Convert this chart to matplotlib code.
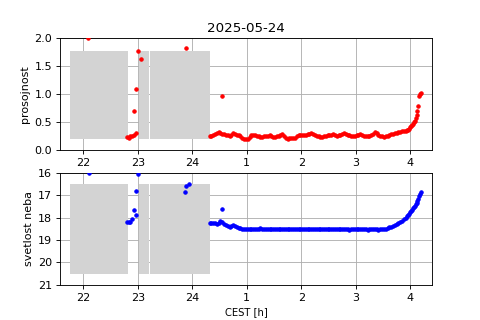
import numpy as np
import matplotlib
matplotlib.use("Agg")
import matplotlib.pyplot as plt
from matplotlib.patches import Rectangle

# scattered readings before the main run (hours CEST, 24 = midnight)
t_early_top = [22.09, 22.80, 22.83, 22.86, 22.89, 22.93, 22.96, 22.92, 22.97, 23.00, 23.05, 23.89, 24.55]
prosojnost_early = [2.00, 0.24, 0.23, 0.25, 0.26, 0.28, 0.31, 0.70, 1.10, 1.78, 1.64, 1.83, 0.98]

t_early_bot = [22.10, 22.80, 22.83, 22.86, 22.90, 22.92, 22.96, 22.97, 23.01, 23.87, 23.89, 23.93, 24.55]
svetlost_early = [16.00, 18.20, 18.21, 18.19, 18.05, 17.67, 17.89, 16.82, 16.05, 16.86, 16.57, 16.50, 17.62]

# main run, minutes after midnight
minutes = [19, 21, 23, 25, 27, 29, 31, 33, 35, 37, 39, 41, 43, 45, 47, 49, 51, 53, 55, 57,
           59, 61, 63, 65, 67, 69, 71, 73, 75, 77, 79, 81, 83, 85, 87, 89, 91, 93, 95, 97,
           99, 101, 103, 105, 107, 109, 111, 113, 115, 117, 119, 121, 123, 125, 127, 129, 131, 133, 135, 137,
           139, 141, 143, 145, 147, 149, 151, 153, 155, 157, 159, 161, 163, 165, 167, 169, 171, 173, 175, 177,
           179, 181, 183, 185, 187, 189, 191, 193, 195, 197, 199, 201, 203, 205, 207, 209, 211, 213, 215, 217,
           219, 221, 223, 225, 227, 229, 231, 233, 235, 237, 238, 239, 240, 241, 242, 243, 244, 245, 246, 247,
           248, 249, 250, 251, 252]

prosojnost = [0.25, 0.26, 0.28, 0.29, 0.31, 0.32, 0.31, 0.30, 0.29, 0.28, 0.27, 0.25, 0.28, 0.31, 0.29, 0.28, 0.27, 0.25, 0.22, 0.21,
              0.20, 0.21, 0.24, 0.28, 0.28, 0.27, 0.25, 0.25, 0.24, 0.24, 0.25, 0.26, 0.25, 0.27, 0.26, 0.24, 0.24, 0.25, 0.26, 0.27,
              0.29, 0.25, 0.22, 0.21, 0.22, 0.22, 0.23, 0.23, 0.25, 0.27, 0.28, 0.28, 0.27, 0.28, 0.29, 0.30, 0.31, 0.29, 0.27, 0.25,
              0.25, 0.24, 0.24, 0.25, 0.26, 0.27, 0.27, 0.28, 0.29, 0.27, 0.26, 0.27, 0.28, 0.29, 0.31, 0.30, 0.28, 0.27, 0.26, 0.25,
              0.26, 0.27, 0.28, 0.29, 0.27, 0.25, 0.25, 0.25, 0.26, 0.28, 0.30, 0.32, 0.31, 0.28, 0.26, 0.25, 0.24, 0.25, 0.26, 0.27,
              0.29, 0.30, 0.31, 0.31, 0.33, 0.33, 0.34, 0.34, 0.35, 0.36, 0.37, 0.39, 0.41, 0.43, 0.45, 0.48, 0.50, 0.53, 0.58, 0.63,
              0.70, 0.80, 0.98, 1.00, 1.02]

svetlost = [18.22, 18.22, 18.24, 18.26, 18.28, 18.24, 18.17, 18.20, 18.27, 18.32, 18.36, 18.40, 18.37, 18.33, 18.38, 18.44, 18.46, 18.48, 18.49, 18.50,
            18.51, 18.51, 18.50, 18.49, 18.50, 18.51, 18.50, 18.49, 18.48, 18.49, 18.50, 18.51, 18.50, 18.50, 18.49, 18.49, 18.50, 18.50, 18.51, 18.51,
            18.52, 18.51, 18.51, 18.50, 18.50, 18.49, 18.49, 18.50, 18.50, 18.49, 18.49, 18.50, 18.51, 18.51, 18.50, 18.51, 18.51, 18.52, 18.51, 18.51,
            18.51, 18.52, 18.52, 18.53, 18.50, 18.51, 18.51, 18.51, 18.52, 18.52, 18.52, 18.52, 18.53, 18.52, 18.51, 18.52, 18.53, 18.54, 18.52, 18.52,
            18.51, 18.52, 18.52, 18.53, 18.52, 18.52, 18.53, 18.54, 18.53, 18.53, 18.52, 18.53, 18.53, 18.54, 18.53, 18.52, 18.51, 18.49, 18.47, 18.44,
            18.41, 18.38, 18.34, 18.30, 18.25, 18.19, 18.13, 18.07, 18.00, 17.92, 17.87, 17.82, 17.76, 17.70, 17.64, 17.58, 17.52, 17.46, 17.40, 17.34,
            17.25, 17.15, 17.05, 16.96, 16.84]

# grey blocks (cloud / no-data intervals), hours
blocks = [(21.76, 22.81), (23.02, 23.21), (23.22, 24.32)]
block_top = (0.2, 1.78)
block_bot = (16.5, 20.5)

hour_ticks = [22, 23, 24, 25, 26, 27, 28]
hour_labels = ["22", "23", "24", "1", "2", "3", "4"]

t_main = 24 + np.array(minutes) / 60.0

fig, (ax1, ax2) = plt.subplots(2, 1, figsize=(6, 4), dpi=80)

for ax, (y0, y1) in ((ax1, block_top), (ax2, block_bot)):
    for x0, x1 in blocks:
        ax.add_patch(Rectangle((x0, y0), x1 - x0, y1 - y0, facecolor="lightgray",
                               edgecolor="none", zorder=2))

ax1.plot(t_early_top, prosojnost_early, "r.", zorder=3)
ax1.plot(t_main, prosojnost, "r.", zorder=3)
ax1.set_ylim(0, 2)
ax1.set_ylabel("prosojnost")
ax1.set_title("2025-05-24")

ax2.plot(t_early_bot, svetlost_early, "b.", zorder=3)
ax2.plot(t_main, svetlost, "b.", zorder=3)
ax2.set_ylim(21, 16)
ax2.set_ylabel("svetlost neba")
ax2.set_xlabel("CEST [h]", fontsize=9)

for ax in (ax1, ax2):
    ax.set_xlim(21.57, 28.40)
    ax.set_xticks(hour_ticks)
    ax.set_xticklabels(hour_labels)
    ax.grid(True)

plt.savefig("out.png")
